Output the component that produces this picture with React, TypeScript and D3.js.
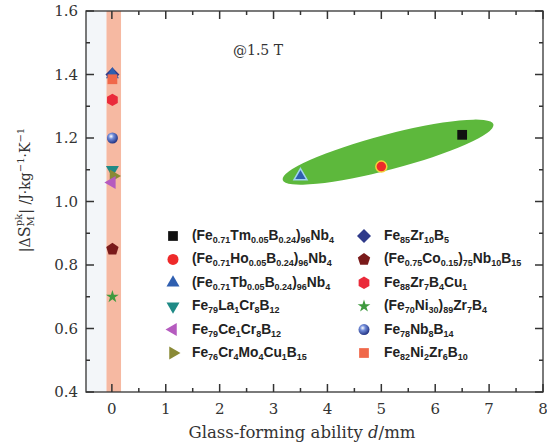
import React from 'react';
import * as d3 from 'd3';

// y values of the samples with d ~ 0 (ribbons)
const ribbonNames = ['diamond', 'triangleUp', 'square', 'hexagon', 'sphere', 'triangleDown', 'triangleRight', 'triangleLeft', 'pentagon', 'star'];
const ribbonX = [0.01, 0.01, 0.01, 0.01, 0.01, 0.01, 0.03, 0.0, 0.01, 0.01];
const ribbonY = [1.40, 1.40, 1.385, 1.32, 1.20, 1.10, 1.08, 1.06, 0.85, 0.70];

// bulk samples inside the green ellipse
const bulkNames = ['squareBlack', 'circle', 'triangleUp'];
const bulkX = [6.5, 5.0, 3.5];
const bulkY = [1.21, 1.11, 1.08];

const xTicks = [0, 1, 2, 3, 4, 5, 6, 7, 8];
const yTicks = [0.4, 0.6, 0.8, 1.0, 1.2, 1.4, 1.6];

const legendLeft = [
  { key: 'squareBlack', label: '(Fe_{0.71}Tm_{0.05}B_{0.24})_{96}Nb_{4}' },
  { key: 'circle', label: '(Fe_{0.71}Ho_{0.05}B_{0.24})_{96}Nb_{4}' },
  { key: 'triangleUp', label: '(Fe_{0.71}Tb_{0.05}B_{0.24})_{96}Nb_{4}' },
  { key: 'triangleDown', label: 'Fe_{79}La_{1}Cr_{8}B_{12}' },
  { key: 'triangleLeft', label: 'Fe_{79}Ce_{1}Cr_{8}B_{12}' },
  { key: 'triangleRight', label: 'Fe_{76}Cr_{4}Mo_{4}Cu_{1}B_{15}' },
];
const legendRight = [
  { key: 'diamond', label: 'Fe_{85}Zr_{10}B_{5}' },
  { key: 'pentagon', label: '(Fe_{0.75}Co_{0.15})_{75}Nb_{10}B_{15}' },
  { key: 'hexagon', label: 'Fe_{88}Zr_{7}B_{4}Cu_{1}' },
  { key: 'star', label: '(Fe_{70}Ni_{30})_{89}Zr_{7}B_{4}' },
  { key: 'sphere', label: 'Fe_{78}Nb_{8}B_{14}' },
  { key: 'square', label: 'Fe_{82}Ni_{2}Zr_{6}B_{10}' },
];

const colors: Record<string, string> = {
  squareBlack: '#111111',
  circle: '#ee2a2a',
  triangleUp: '#2f5fb0',
  triangleDown: '#1f8a86',
  triangleLeft: '#b55bbf',
  triangleRight: '#8a8a36',
  diamond: '#2f3a8a',
  pentagon: '#7a1a1a',
  hexagon: '#ea2a3a',
  star: '#3f9a3f',
  sphere: '#2a3f9a',
  square: '#f0684a',
};

const W = 547;
const H = 446;
const M = { left: 86, right: 4, top: 11, bottom: 54 };

const x = d3.scaleLinear().domain([-0.48, 8]).range([M.left, W - M.right]);
const y = d3.scaleLinear().domain([0.4, 1.6]).range([H - M.bottom, M.top]);

const poly = (n: number, r: number, rot: number) =>
  d3.range(n).map(i => {
    const a = rot + (i * 2 * Math.PI) / n;
    return [r * Math.cos(a), r * Math.sin(a)];
  });
const polyPath = (pts: number[][]) => 'M' + pts.map(p => p.join(',')).join('L') + 'Z';

const markerPath = (key: string): string => {
  switch (key) {
    case 'squareBlack':
    case 'square':
      return d3.symbol(d3.symbolSquare, 95)()!;
    case 'circle':
      return d3.symbol(d3.symbolCircle, 95)()!;
    case 'diamond':
      return polyPath(poly(4, 7, -Math.PI / 2));
    case 'triangleUp':
      return polyPath(poly(3, 7.5, -Math.PI / 2));
    case 'triangleDown':
      return polyPath(poly(3, 7.5, Math.PI / 2));
    case 'triangleLeft':
      return polyPath(poly(3, 7.5, Math.PI));
    case 'triangleRight':
      return polyPath(poly(3, 7.5, 0));
    case 'pentagon':
      return polyPath(poly(5, 6.5, -Math.PI / 2));
    case 'hexagon':
      return polyPath(poly(6, 6.2, Math.PI / 6));
    case 'star':
      return d3.symbol(d3.symbolStar, 50)()!;
    default:
      return d3.symbol(d3.symbolCircle, 95)()!;
  }
};

const Marker = ({ k, cx, cy, stroke }: { k: string; cx: number; cy: number; stroke?: string }) => {
  if (k === 'sphere') {
    return <circle cx={cx} cy={cy} r={5.5} fill="url(#sphereGrad)" />;
  }
  return (
    <path
      d={markerPath(k)}
      transform={`translate(${cx},${cy})`}
      fill={colors[k]}
      stroke={stroke || 'none'}
      strokeWidth={stroke ? 1.5 : 0}
    />
  );
};

// parse "Fe_{79}La_{1}" into tspans
const SubText = ({ s }: { s: string }) => {
  const parts = s.split(/(_\{[^}]*\})/).filter(p => p.length);
  return (
    <>
      {parts.map((p, i) =>
        p.startsWith('_{') ? (
          <tspan key={i} fontSize={9} dy={3}>{p.slice(2, -1)}</tspan>
        ) : (
          <tspan key={i} fontSize={13.8} dy={i === 0 ? 0 : -3}>{p}</tspan>
        )
      )}
    </>
  );
};

export default function App() {
  const serif = '"DejaVu Serif", "Liberation Serif", serif';
  const sans = '"Liberation Sans", Arial, sans-serif';
  const x0 = M.left;
  const x1 = W - M.right;
  const y0 = H - M.bottom;
  const y1 = M.top;

  const minorX = d3.range(-0.5, 8, 1).filter(v => v > -0.48);
  const minorY = d3.range(0.5, 1.6, 0.2);

  // ellipse from its data-space end points
  const ex1 = x(3.17), ey1 = y(1.068);
  const ex2 = x(7.08), ey2 = y(1.243);
  const ecx = (ex1 + ex2) / 2, ecy = (ey1 + ey2) / 2;
  const ang = (Math.atan2(ey2 - ey1, ex2 - ex1) * 180) / Math.PI;
  const erx = Math.hypot(ex2 - ex1, ey2 - ey1) / 2;

  const rowY = (i: number) => 236 + i * 23.4;

  return (
    <svg width={W} height={H} style={{ position: 'absolute', left: 0, top: 0, background: '#fff' }}>
      <defs>
        <radialGradient id="sphereGrad" cx="0.38" cy="0.35" r="0.7">
          <stop offset="0" stopColor="#ffffff" />
          <stop offset="0.35" stopColor="#6f8ad8" />
          <stop offset="1" stopColor="#1a2a7a" />
        </radialGradient>
      </defs>
      <rect x={x0} y={y1} width={x(-0.1) - x0} height={y0 - y1} fill="#f3f6f9" />
      <rect x={x(-0.1)} y={y1} width={x(0.17) - x(-0.1)} height={y0 - y1} fill="#f6b9a2" />

      <ellipse cx={ecx} cy={ecy} rx={erx} ry={17.5} fill="#5db83c" transform={`rotate(${ang},${ecx},${ecy})`} />

      {ribbonNames.map((k, i) => (
        <Marker key={'r' + i} k={k} cx={x(ribbonX[i])} cy={y(ribbonY[i])} />
      ))}
      {bulkNames.map((k, i) => (
        <Marker
          key={'b' + i}
          k={k}
          cx={x(bulkX[i])}
          cy={y(bulkY[i])}
          stroke={k === 'circle' ? '#f2d23a' : k === 'triangleUp' ? '#9fd3f0' : undefined}
        />
      ))}

      {/* frame and ticks */}
      <rect x={x0} y={y1} width={x1 - x0} height={y0 - y1} fill="none" stroke="#333" strokeWidth={1.3} />
      <g stroke="#333" strokeWidth={1.5}>
        {xTicks.map(v => (
          <g key={'xt' + v}>
            <line x1={x(v)} x2={x(v)} y1={y0} y2={y0 - 8} />
            <line x1={x(v)} x2={x(v)} y1={y1} y2={y1 + 8} />
          </g>
        ))}
        {minorX.map(v => (
          <g key={'xm' + v}>
            <line x1={x(v)} x2={x(v)} y1={y0} y2={y0 - 4} />
            <line x1={x(v)} x2={x(v)} y1={y1} y2={y1 + 4} />
          </g>
        ))}
        {yTicks.map(v => (
          <g key={'yt' + v}>
            <line x1={x0} x2={x0 + 8} y1={y(v)} y2={y(v)} />
            <line x1={x1} x2={x1 - 8} y1={y(v)} y2={y(v)} />
          </g>
        ))}
        {minorY.map(v => (
          <g key={'ym' + v}>
            <line x1={x0} x2={x0 + 4} y1={y(v)} y2={y(v)} />
            <line x1={x1} x2={x1 - 4} y1={y(v)} y2={y(v)} />
          </g>
        ))}
      </g>

      <g fontFamily={serif} fontSize={15} fill="#333">
        {xTicks.map(v => (
          <text key={'xl' + v} x={x(v)} y={y0 + 22} textAnchor="middle">{v}</text>
        ))}
        {yTicks.map(v => (
          <text key={'yl' + v} x={x0 - 8} y={y(v) + 5} textAnchor="end">{v.toFixed(1)}</text>
        ))}
        <text x={302} y={438} textAnchor="middle" fontSize={16.5}>
          Glass-forming ability <tspan fontStyle="italic">d</tspan>/mm
        </text>
        <text transform="translate(30,190) rotate(-90)" textAnchor="middle" fontSize={14}>
          |Δ<tspan fontSize={16}>S</tspan><tspan fontSize={10} dy={4} dx={0}>M</tspan>
          <tspan fontSize={10} dy={-12} dx={-10}>pk</tspan>
          <tspan dy={8}>| /J·kg</tspan>
          <tspan fontSize={10} dy={-6}>−1</tspan>
          <tspan dy={6}>·K</tspan>
          <tspan fontSize={10} dy={-6}>−1</tspan>
        </text>
        <text x={233} y={55} fontSize={14}>@1.5 T</text>
      </g>

      <g fontFamily={sans} fontWeight="bold" fill="#222">
        {legendLeft.map((d, i) => (
          <g key={'ll' + i}>
            <Marker k={d.key} cx={173} cy={rowY(i)} />
            <text x={192} y={rowY(i) + 4}><SubText s={d.label} /></text>
          </g>
        ))}
        {legendRight.map((d, i) => (
          <g key={'lr' + i}>
            <Marker k={d.key} cx={364} cy={rowY(i)} />
            <text x={384} y={rowY(i) + 4}><SubText s={d.label} /></text>
          </g>
        ))}
      </g>
    </svg>
  );
}
